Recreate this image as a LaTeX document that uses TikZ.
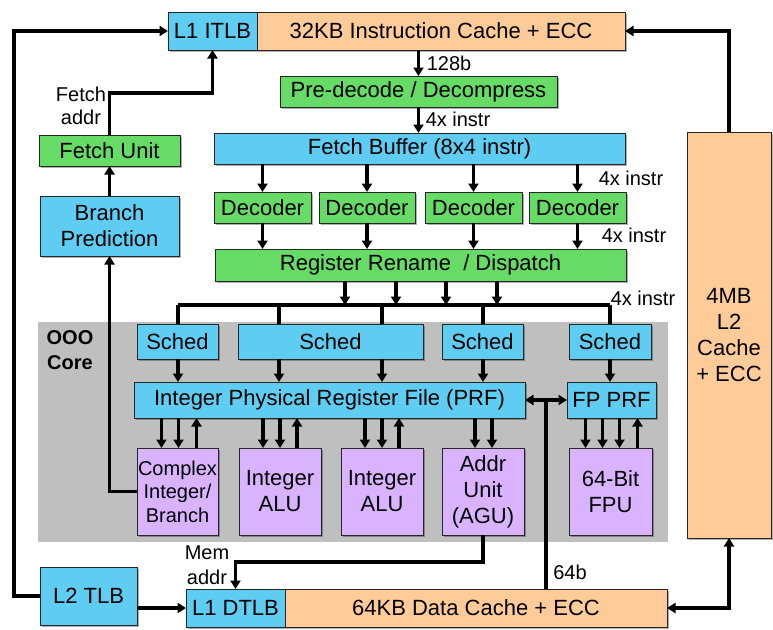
\documentclass[tikz,border=0pt]{standalone}
\usepackage{fontspec}
\setmainfont{Liberation Sans}
\usetikzlibrary{arrows.meta,calc,shadows}
\definecolor{cblue}{HTML}{5FCDF2}
\definecolor{cgreen}{HTML}{66DB66}
\definecolor{corange}{HTML}{FFCC99}
\definecolor{cpurple}{HTML}{D9B3FF}
\definecolor{cgray}{HTML}{BFBFBF}
\newcommand\mybox[7]{\node[#6, minimum width={(#4)-(#2)}, minimum height={(#5)-(#3)}] (#1) at ({((#2)+(#4))/2},{((#3)+(#5))/2}) {#7};}
\begin{document}
\begin{tikzpicture}[x=1pt,y=-1pt,
  box/.style={draw=black!85, line width=1pt, inner sep=0pt, outer sep=0pt, align=center,
    font=\fontsize{22}{26}\selectfont,
    drop shadow={shadow xshift=1.5pt, shadow yshift=-1.5pt, fill=black, opacity=0.3}},
  bluebox/.style={box, fill=cblue},
  greenbox/.style={box, fill=cgreen},
  orangebox/.style={box, fill=corange},
  purplebox/.style={box, fill=cpurple},
  smallpurple/.style={purplebox, font=\fontsize{20}{23.5}\selectfont},
  corebg/.style={fill=cgray, inner sep=0pt, outer sep=0pt},
  ln/.style={line width=3.2pt, black},
  arr/.style={ln, -{Triangle[width=10pt,length=8.5pt]}},
  rarr/.style={ln, {Triangle[width=10pt,length=8.5pt]}-},
  darr/.style={ln, {Triangle[width=10pt,length=8.5pt]}-{Triangle[width=10pt,length=8.5pt]}},
  lbl/.style={font=\fontsize{20}{24}\selectfont, inner sep=0pt, align=center},
]
\useasboundingbox (0,0) rectangle (773,629);

% OOO core background
\mybox{core}{38}{322}{668}{542}{corebg}{}
\node[lbl, font=\bfseries\fontsize{20}{25}\selectfont] (ooo) at (70,350) {OOO\\Core};

% Front end
\mybox{itlb}{168}{12}{257}{50}{bluebox}{L1 ITLB}
\mybox{icache}{257}{12}{625}{50}{orangebox}{32KB Instruction Cache + ECC}
\mybox{predec}{280}{76}{557}{107}{greenbox}{Pre-decode / Decompress}
\mybox{fbuf}{214}{133}{625}{164}{bluebox}{Fetch Buffer (8x4 instr)}
\mybox{dec1}{214}{192}{311}{223}{greenbox}{Decoder}
\mybox{dec2}{319}{192}{415}{223}{greenbox}{Decoder}
\mybox{dec3}{425}{192}{522}{223}{greenbox}{Decoder}
\mybox{dec4}{529}{192}{626}{223}{greenbox}{Decoder}
\mybox{rename}{215}{249}{626}{281}{greenbox}{Register Rename \ / Dispatch}
\mybox{fetchunit}{39}{135}{180}{166}{greenbox}{Fetch Unit}
\mybox{bp}{40}{196}{179}{256}{bluebox}{Branch\\Prediction}

% Schedulers and register files
\mybox{sched1}{137}{324}{218}{359}{bluebox}{Sched}
\mybox{sched2}{238}{324}{423}{359}{bluebox}{Sched}
\mybox{sched3}{442}{324}{523}{359}{bluebox}{Sched}
\mybox{sched4}{569}{324}{651}{359}{bluebox}{Sched}
\mybox{intprf}{134}{382}{525}{418}{bluebox}{Integer Physical Register File (PRF)}
\mybox{fpprf}{567}{382}{656}{418}{bluebox}{FP PRF}

% Execution units
\mybox{complex}{137}{448}{218}{535}{smallpurple}{Complex\\Integer/\\Branch}
\mybox{alu1}{239}{448}{321}{535}{purplebox}{Integer\\ALU}
\mybox{alu2}{341}{448}{423}{535}{purplebox}{Integer\\ALU}
\mybox{agu}{442}{448}{524}{535}{purplebox}{Addr\\Unit\\(AGU)}
\mybox{fpu}{569}{448}{652}{535}{purplebox}{64-Bit\\FPU}

% Memory
\mybox{l2tlb}{40}{567}{137}{625}{bluebox}{L2 TLB}
\mybox{dtlb}{186}{589}{285}{627}{bluebox}{L1 DTLB}
\mybox{dcache}{285}{589}{667}{627}{orangebox}{64KB Data Cache + ECC}
\mybox{l2}{687}{132}{771}{538}{orangebox}{4MB\\L2\\Cache\\+ ECC}

% Labels
\node[lbl] (l128) at (449,63) {128b};
\node[lbl] (l4a) at (458,119) {4x instr};
\node[lbl] (l4b) at (631,178) {4x instr};
\node[lbl] (l4c) at (634,235) {4x instr};
\node[lbl] (l4d) at (643,298) {4x instr};
\node[lbl, font=\fontsize{20}{23}\selectfont] (faddr) at (81,106) {Fetch\\addr};
\node[lbl, font=\fontsize{20}{25}\selectfont] (maddr) at (207,565) {Mem\\addr};
\node[lbl] (l64) at (570,572) {64b};

% Front-end connectors
\draw[arr] (l2tlb.west) -- ++(-26,0) |- (itlb.west);
\draw[arr] (l2.north) |- (icache.east);
\draw[arr] (predec.north |- icache.south) -- (predec.north);
\draw[arr] (predec.south) -- (predec.south |- fbuf.north);
\foreach \d in {dec1,dec2,dec3,dec4}{
  \draw[arr] (\d.north |- fbuf.south) -- (\d.north);
  \draw[arr] (\d.south) -- (\d.south |- rename.north);
}
\draw[arr] (bp.north) -- (fetchunit.south);
\draw[arr] (fetchunit.north) -- ++(0,-42) -| (itlb.south);
\draw[arr] (complex.west) -| (bp.south);

% Dispatch bus
\coordinate (busL) at (178,305);
\coordinate (busR) at (610,305);
\draw[ln] (busL) -- (busR);
\foreach \x in {345,396,446,497}{
  \coordinate (tap) at (\x,305);
  \draw[arr] (tap |- rename.south) -- (tap);
}
\foreach \x in {178,279,382,483,610}{
  \coordinate (drop) at (\x,305);
  \draw[ln] (drop) -- (drop |- sched1.north);
}
\foreach \x in {178,279,382,483}{
  \coordinate (sp) at (\x,359);
  \draw[arr] (sp) -- (sp |- intprf.north);
}
\draw[arr] (sched4.south) -- (sched4.south |- fpprf.north);

% PRF to execution units
\foreach \n/\dx/\s in {complex/-16/arr, complex/1/arr, complex/19/rarr,
                       alu1/-17/arr, alu1/0/arr, alu1/17/rarr,
                       alu2/-17/arr, alu2/0/arr, alu2/17/rarr,
                       agu/-8/arr, agu/9/arr}{
  \coordinate (u) at ($(\n.north)+(\dx,0)$);
  \draw[\s] (u |- intprf.south) -- (u);
}
\foreach \dx/\s in {-25/arr, -8/arr, 9/arr, 27/rarr}{
  \coordinate (v) at ($(fpu.north)+(\dx,0)$);
  \draw[\s] (v |- fpprf.south) -- (v);
}

% PRF exchange and data cache
\draw[darr] (intprf.east) -- (fpprf.west);
\coordinate (jn) at (546,400);
\draw[ln] (jn) -- (jn |- dcache.north);
\draw[arr] (agu.south) -- ++(0,27) -| (dtlb.north);
\draw[arr] (l2tlb.east |- dtlb.west) -- (dtlb.west);
\draw[darr] (dcache.east) -| (l2.south);
\end{tikzpicture}
\end{document}
